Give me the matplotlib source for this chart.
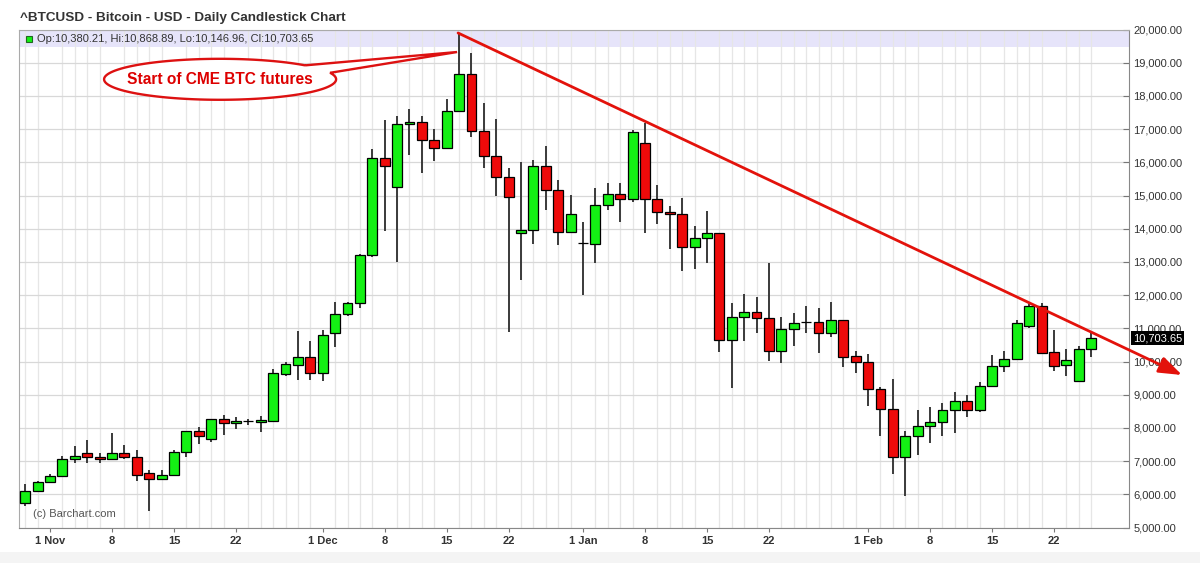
import numpy as np
import pandas as pd
import matplotlib
matplotlib.use('Agg')
import matplotlib.pyplot as plt
from matplotlib.patches import Rectangle, PathPatch
from matplotlib.path import Path
from matplotlib.ticker import FuncFormatter, MultipleLocator
import matplotlib.transforms as mtransforms

plt.rcParams['font.family'] = ['Liberation Sans', 'DejaVu Sans']

# trading days shown (weekdays only)
dates = pd.bdate_range('2017-10-30', '2018-02-27')

# daily OHLC
opens = [5740, 6090, 6370, 6550, 7050, 7250, 7130, 7050, 7250, 7130,
         6640, 6460, 6590, 7280, 7900, 7670, 8270, 8140, 8200, 8170,
         8220, 9630, 9900, 10130, 9660, 10870, 11430, 11750, 13210, 16120,
         15270, 17160, 17220, 16670, 16420, 17560, 18660, 16940, 16190, 15570,
         13860, 13950, 15890, 15170, 13890, 13560, 13540, 14700, 15036, 14885,
         16590, 14885, 14514, 14443, 13459, 13710, 13881, 10640, 11350, 11490,
         11300, 10320, 10970, 11200, 11200, 10870, 11250, 10160, 9995, 9165,
         8565, 7138, 7760, 8070, 8167, 8528, 8820, 8543, 9271, 9854,
         10076, 11060, 11683, 10286, 9884, 9402, 10380.21]
highs = [6320, 6410, 6620, 7150, 7450, 7630, 7230, 7850, 7480, 7320,
         6740, 6720, 7330, 7910, 8030, 8280, 8380, 8320, 8270, 8360,
         9770, 9990, 10930, 10630, 10950, 11800, 11800, 13250, 16390, 17270,
         17400, 17610, 17400, 16990, 17910, 19890, 19300, 17780, 17290, 15820,
         16000, 16070, 16480, 15470, 15016, 14212, 15216, 15387, 15387, 16973,
         17194, 15317, 14684, 14915, 14082, 14534, 13881, 11750, 12025, 11930,
         12970, 11350, 11470, 11680, 11600, 11800, 11250, 10320, 10226, 9240,
         9480, 7920, 8543, 8634, 8735, 9076, 8985, 9370, 10206, 10306,
         11261, 11743, 11764, 10940, 10377, 10460, 10868.89]
lows = [5640, 6070, 6360, 6540, 6930, 6930, 6930, 7040, 7050, 6390,
        5490, 6420, 6540, 7120, 7520, 7580, 7800, 7980, 8080, 7880,
        8200, 9560, 9440, 9440, 9400, 10430, 11380, 11600, 13150, 13940,
        13010, 16220, 15670, 16050, 16400, 17550, 16770, 15820, 14970, 10900,
        12460, 13540, 14560, 13510, 13891, 12004, 12978, 14564, 14212, 14815,
        13861, 14142, 13379, 12737, 12797, 12978, 10300, 9190, 10630, 10870,
        10025, 9945, 10470, 10870, 10270, 10730, 9825, 9645, 8660, 7750,
        6610, 5952, 7188, 7540, 7750, 7850, 8342, 8467, 9271, 9694,
        10076, 11010, 10226, 9703, 9553, 9402, 10146.96]
closes = [6090, 6370, 6560, 7050, 7150, 7120, 7050, 7250, 7120, 6590,
          6460, 6590, 7280, 7900, 7750, 8270, 8150, 8210, 8200, 8250,
          9640, 9910, 10130, 9660, 10800, 11430, 11750, 13210, 16120, 15890,
          17140, 17220, 16670, 16420, 17560, 18660, 16940, 16190, 15570, 14950,
          13960, 15890, 15170, 13891, 14453, 13560, 14724, 15036, 14885, 16923,
          14885, 14514, 14443, 13459, 13710, 13881, 10648, 11340, 11490, 11320,
          10317, 10970, 11170, 11200, 10870, 11250, 10150, 9995, 9162, 8565,
          7138, 7760, 8070, 8167, 8528, 8820, 8543, 9260, 9854, 10076,
          11160, 11683, 10256, 9874, 10035, 10377, 10703.65]

tick_dates = ['2017-11-01', '2017-11-08', '2017-11-15', '2017-11-22',
              '2017-12-01', '2017-12-08', '2017-12-15', '2017-12-22',
              '2018-01-01', '2018-01-08', '2018-01-15', '2018-01-22',
              '2018-02-01', '2018-02-08', '2018-02-15', '2018-02-22']
tick_labels = ['1 Nov', '8', '15', '22', '1 Dec', '8', '15', '22',
               '1 Jan', '8', '15', '22', '1 Feb', '8', '15', '22']

# trend line from the December peak, and the callout
trend_start = (34.92, 19895)
trend_end = (93.33, 9593)
callout_center = (15.72, 18500)
callout_a, callout_b = 9.36, 617
callout_tip = (34.84, 19322)

o = np.array(opens)
h = np.array(highs)
l = np.array(lows)
c = np.array(closes)
x = np.arange(len(dates))

fig = plt.figure(figsize=(12, 5.63), dpi=100)
ax = fig.add_axes([19.3 / 1200, 35.5 / 563, 1109.7 / 1200, 498 / 563])

ax.set_xlim(-0.48, 89.05)
ax.set_ylim(5000, 20000)

# grid
ax.set_axisbelow(True)
ax.yaxis.set_major_locator(MultipleLocator(1000))
ax.set_xticks(x, minor=True)
ax.grid(which='major', axis='y', color='#d8d8d8', lw=0.9)
ax.grid(which='minor', axis='x', color='#e6e6e6', lw=0.9)

ax.axhspan(19480, 20000, color='#e6e4fa', zorder=0.4, lw=0)

# candles
up = c >= o
cols = np.where(c > o, '#14f014', np.where(c < o, '#ee0a0a', 'black'))
ax.vlines(x, l, h, color='#3a3a3a', lw=1.4, zorder=2)
ax.bar(x, np.abs(c - o), bottom=np.minimum(o, c), width=0.8,
       color=cols, edgecolor='black', lw=0.9, zorder=3)

# axes styling
ax.yaxis.tick_right()
ax.yaxis.set_major_formatter(FuncFormatter(lambda v, p: f'{v:,.2f}'))
ax.tick_params(axis='y', which='major', direction='in', length=4, pad=3,
               labelsize=8, labelcolor='#333333', color='#777777')
tick_pos = [dates.get_loc(pd.Timestamp(d)) for d in tick_dates]
ax.set_xticks(tick_pos)
ax.set_xticklabels(tick_labels, fontweight='bold')
ax.tick_params(axis='x', which='major', direction='out', length=3, pad=3,
               labelsize=8, labelcolor='#333333', color='#777777')
ax.tick_params(axis='x', which='minor', length=0)
for s in ['left', 'top']:
    ax.spines[s].set_color('#aaaaaa')
for s in ['right', 'bottom']:
    ax.spines[s].set_color('#888888')

# title and legend line
fig.text(20 / 1200, 1 - 18.3 / 563, '^BTCUSD - Bitcoin - USD - Daily Candlestick Chart',
         fontsize=9.7, fontweight='bold', color='#333333', va='center', ha='left')
ax.add_patch(Rectangle((0.0058, 0.9743), 0.0054, 0.012, transform=ax.transAxes,
                       facecolor='#14f014', edgecolor='#226622', lw=0.8, zorder=5))
ax.text(0.0157, 0.9803,
        f'Op:{opens[-1]:,.2f}, Hi:{highs[-1]:,.2f}, Lo:{lows[-1]:,.2f}, Cl:{closes[-1]:,.2f}',
        transform=ax.transAxes, fontsize=8, color='#333333', va='center', ha='left', zorder=5)
ax.text(0.012, 0.0265, '(c) Barchart.com', transform=ax.transAxes,
        fontsize=8, color='#555555', va='center', ha='left')

# last price box
trans = mtransforms.blended_transform_factory(ax.transAxes, ax.transData)
ax.text(1.0035, closes[-1], f'{closes[-1]:,.2f}', transform=trans, fontsize=8,
        color='white', va='center', ha='left', clip_on=False,
        bbox=dict(boxstyle='square,pad=0.15', fc='black', ec='none'))

# trend line with arrow
ax.annotate('', xy=trend_end, xytext=trend_start, annotation_clip=False,
            arrowprops=dict(arrowstyle='-|>,head_length=1.4,head_width=0.5',
                            color='#e3120b', lw=2, shrinkA=0, shrinkB=0,
                            mutation_scale=10), zorder=6)

# callout bubble
t = np.radians(np.linspace(42.9, 378.5, 200))
cx, cy = callout_center
verts = list(zip(cx + callout_a * np.cos(t), cy + callout_b * np.sin(t)))
verts += [callout_tip, verts[0]]
codes = [Path.MOVETO] + [Path.LINETO] * (len(verts) - 1)
ax.add_patch(PathPatch(Path(verts, codes), facecolor='white', edgecolor='#dd1111',
                       lw=1.7, zorder=6))
ax.text(cx, cy, 'Start of CME BTC futures', fontsize=11.2, fontweight='bold',
        color='#dd0000', ha='center', va='center', zorder=7)

fig.patches.append(Rectangle((0, 0), 1, 11 / 563, transform=fig.transFigure,
                             facecolor='#f4f4f4', edgecolor='none', zorder=-1))

fig.savefig('out.png', dpi=100)
